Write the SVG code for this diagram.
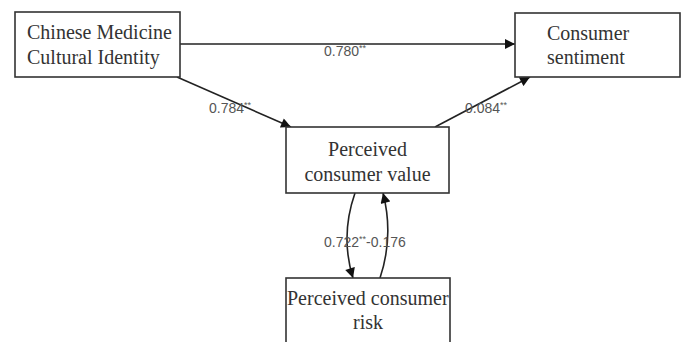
<svg xmlns="http://www.w3.org/2000/svg" width="688" height="342" viewBox="0 0 688 342">
<style>
.box{fill:#fff;stroke:#333;stroke-width:1.6}
.t{font-family:"Liberation Serif",serif;font-size:20px;fill:#333}
.lbl{font-family:"Liberation Sans",sans-serif;font-size:14px;fill:#555}
.sup{font-size:9px}
.c{fill:none;stroke:#222;stroke-width:1.6}
</style>
<defs>
<marker id="ah" viewBox="0 0 10 10" refX="10" refY="5" markerWidth="11" markerHeight="10" markerUnits="userSpaceOnUse" orient="auto">
<path d="M0,0 L10,5 L0,10 z" fill="#111"/>
</marker>
</defs>
<rect width="688" height="342" fill="#fff"/>
<g id="connectors">
<line class="c" x1="180" y1="44" x2="515" y2="44" marker-end="url(#ah)"/>
<line class="c" x1="177" y1="77" x2="291" y2="127" marker-end="url(#ah)"/>
<line class="c" x1="435" y1="127" x2="530" y2="77" marker-end="url(#ah)"/>
<path class="c" d="M355,193 Q340,236 353,278" marker-end="url(#ah)"/>
<path class="c" d="M380,278 Q394,236 383,193" marker-end="url(#ah)"/>
<text class="lbl" x="324" y="56">0.780<tspan class="sup" dy="-5">**</tspan></text>
<text class="lbl" x="209" y="113">0.784<tspan class="sup" dy="-5">**</tspan></text>
<text class="lbl" x="465" y="113">0.084<tspan class="sup" dy="-5">**</tspan></text>
<text class="lbl" x="324" y="247">0.722<tspan class="sup" dy="-5">**</tspan><tspan dy="5">-0.176</tspan></text>
</g>
<g id="n1">
<rect class="box" x="15" y="12" width="165" height="65"/>
<text class="t" x="27" y="39">Chinese Medicine</text>
<text class="t" x="27" y="64">Cultural Identity</text>
</g>
<g id="n2">
<rect class="box" x="515" y="13" width="165" height="64"/>
<text class="t" x="547" y="40">Consumer</text>
<text class="t" x="547" y="64">sentiment</text>
</g>
<g id="n3">
<rect class="box" x="286" y="127" width="163" height="66"/>
<text class="t" x="367.5" y="156" text-anchor="middle">Perceived</text>
<text class="t" x="367.5" y="181" text-anchor="middle">consumer value</text>
</g>
<g id="n4">
<rect class="box" x="286" y="278" width="164" height="70"/>
<text class="t" x="287" y="305">Perceived consumer</text>
<text class="t" x="368" y="329" text-anchor="middle">risk</text>
</g>
</svg>
